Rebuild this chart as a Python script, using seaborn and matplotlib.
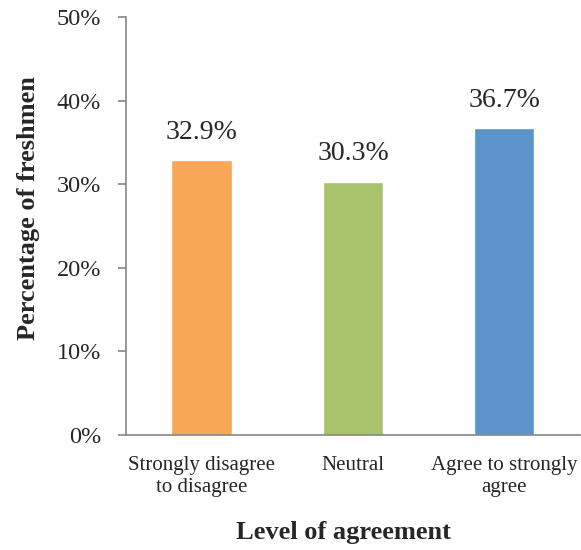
import matplotlib
matplotlib.use('Agg')
import matplotlib.pyplot as plt
import pandas as pd
import seaborn as sns
from matplotlib.ticker import PercentFormatter

# Data
categories = ['Strongly disagree\nto disagree', 'Neutral', 'Agree to strongly\nagree']
percentages = [32.9, 30.3, 36.7]
bar_colors = ['#F8A657', '#A9C46D', '#5B94CA']

df = pd.DataFrame({'category': categories, 'pct': percentages})

sns.set_style('white')
plt.rcParams['font.family'] = ['Liberation Serif', 'DejaVu Serif']

fig = plt.figure(figsize=(5.81, 5.50), dpi=100)
ax = fig.add_axes([0.217, 0.209, 0.781, 0.760])

sns.barplot(data=df, x='category', y='pct', hue='category', palette=bar_colors,
            legend=False, width=0.4, ax=ax, saturation=1)

# Value labels above bars
for container in ax.containers:
    ax.bar_label(container, fmt='%.1f%%', padding=11, fontsize=20)

ax.set_ylim(0, 50)
ax.set_xlim(-0.5, 2.5)
ax.yaxis.set_major_formatter(PercentFormatter(decimals=0))
ax.set_yticks([0, 10, 20, 30, 40, 50])

# Tick marks at category boundaries
ax.set_xticks([-0.5, 0.5, 1.5, 2.5], minor=True)
ax.tick_params(axis='both', direction='out', bottom=True, left=True)
ax.tick_params(axis='x', which='major', length=0, labelsize=15, pad=15, bottom=False)
ax.tick_params(axis='x', which='minor', length=6, color='#868686', width=1.2)
ax.tick_params(axis='y', length=6, color='#868686', width=1.2, labelsize=17.5, pad=12)

for side in ['top', 'right']:
    ax.spines[side].set_visible(False)
for side in ['left', 'bottom']:
    ax.spines[side].set_color('#868686')
    ax.spines[side].set_linewidth(1.2)

ax.set_xlabel('Level of agreement', fontsize=19, fontweight='bold', va='center')
ax.set_ylabel('Percentage of freshmen', fontsize=19, fontweight='bold', va='center')
ax.xaxis.set_label_coords(0.48, -0.234)
ax.yaxis.set_label_coords(-0.216, 0.543)

fig.savefig('out.png', dpi=100)
